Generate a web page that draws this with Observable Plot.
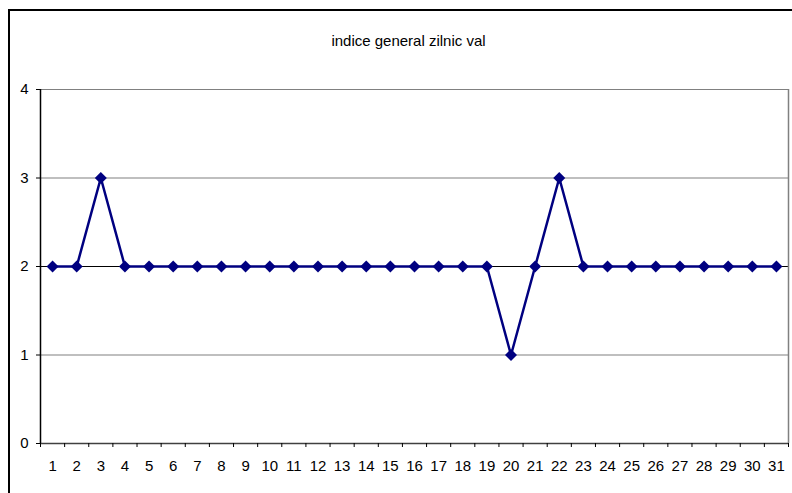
<!DOCTYPE html>
<html>
<head>
<meta charset="utf-8">
<script src="https://cdn.jsdelivr.net/npm/d3@7"></script>
<script src="https://cdn.jsdelivr.net/npm/@observablehq/plot@0.6"></script>
<style>
  html, body { margin: 0; padding: 0; background: #fff; overflow: hidden; }
  #wrap { position: relative; width: 792px; height: 493px; }
  #border { position: absolute; left: 8px; top: 9px; width: 800px; height: 500px;
            border-left: 2px solid #000; border-top: 2px solid #000; pointer-events: none; }
  #chart { position: absolute; left: 0; top: 0; }
</style>
</head>
<body>
<div id="wrap"><div id="chart"></div><div id="border"></div></div>
<script>
const title = "indice general zilnic val";
const days = d3.range(1, 32);
const values = [2,2,3,2,2,2,2,2,2,2,2,2,2,2,2,2,2,2,2,1,2,3,2,2,2,2,2,2,2,2,2];
const yTicks = [0, 1, 2, 3, 4];

const data = days.map((d, i) => ({day: d, value: values[i]}));
const bounds = d3.range(0, 32).map(d => d + 0.5);

const chart = Plot.plot({
  width: 792,
  height: 493,
  marginLeft: 40,
  marginRight: 4,
  marginTop: 89,
  marginBottom: 50,
  style: {fontFamily: "'Liberation Sans', Arial, sans-serif", fontSize: "15px", color: "#000", background: "transparent"},
  x: {domain: [0.5, 31.5], axis: null},
  y: {domain: [0, 4], axis: null},
  marks: [
    Plot.ruleY([1, 3, 4], {stroke: "#808080", strokeWidth: 1.2}),
    Plot.ruleY([2], {stroke: "#000", strokeWidth: 1}),
    Plot.ruleX([31.5], {stroke: "#808080", strokeWidth: 1.5}),
    Plot.ruleY([0], {stroke: "#404040", strokeWidth: 1.5}),
    Plot.ruleX([0.5], {stroke: "#000", strokeWidth: 1.5}),
    Plot.axisY({ticks: yTicks, tickSize: 4, tickPadding: 8, tickFormat: d3.format("d"), label: null, fontSize: 15, stroke: "#000"}),
    Plot.axisX({ticks: bounds, tickSize: 4, tickFormat: () => "", label: null, stroke: "#000"}),
    Plot.axisX({ticks: days, tickSize: 0, tickPadding: 17, tickFormat: d3.format("d"), label: null, fontSize: 15}),
    Plot.line(data, {x: "day", y: "value", stroke: "#000080", strokeWidth: 2.5}),
    Plot.dot(data, {x: "day", y: "value", symbol: "diamond2", r: 5.4, fill: "#000080", stroke: "none"}),
    Plot.text([title], {frameAnchor: "top", dy: -54, dx: -6, fontSize: 15, fill: "#000"})
  ]
});
document.getElementById("chart").appendChild(chart);
</script>
</body>
</html>
